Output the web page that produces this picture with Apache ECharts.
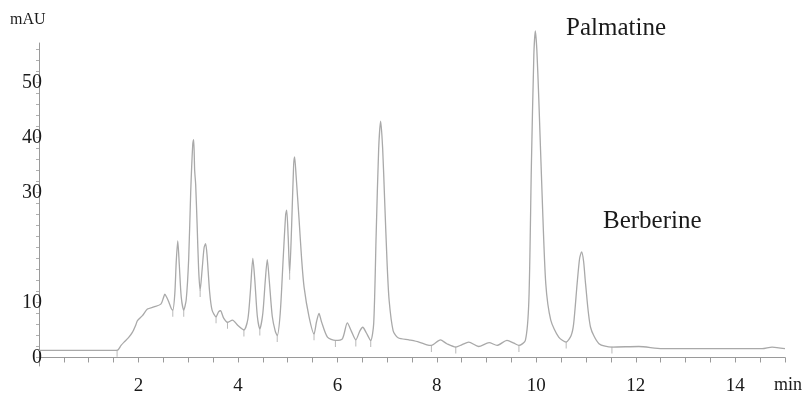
<!DOCTYPE html>
<html>
<head>
<meta charset="utf-8">
<script src="https://cdn.jsdelivr.net/npm/echarts@6/dist/echarts.min.js"></script>
<style>
  html, body { margin: 0; padding: 0; background: #fff; }
  #plot { width: 804px; height: 402px; }
</style>
</head>
<body>
<div id="plot"></div>
<script>
// retention time (min) and absorbance (mAU)
const times = [
    0, 1.57, 1.65, 1.71, 1.80, 1.88, 1.95, 1.98, 2.08, 2.18, 2.31, 2.45, 2.50, 2.53, 2.57, 2.61, 2.66, 2.69,
    2.73, 2.76, 2.79, 2.82, 2.86, 2.91, 2.96, 3.01, 3.05, 3.09, 3.11, 3.13, 3.15, 3.18, 3.21, 3.24, 3.28, 3.32,
    3.35, 3.38, 3.43, 3.48, 3.56, 3.61, 3.65, 3.71, 3.79, 3.89, 4.00, 4.12, 4.20, 4.25, 4.30, 4.34, 4.39, 4.44,
    4.50, 4.55, 4.59, 4.63, 4.69, 4.75, 4.79, 4.85, 4.91, 4.96, 4.98, 5.01, 5.04, 5.08, 5.12, 5.14, 5.17, 5.23,
    5.28, 5.33, 5.43, 5.53, 5.58, 5.63, 5.68, 5.80, 5.96, 6.10, 6.20, 6.28, 6.37, 6.45, 6.51, 6.58, 6.67, 6.73,
    6.78, 6.83, 6.87, 6.91, 6.95, 7.00, 7.04, 7.12, 7.22, 7.44, 7.64, 7.80, 7.89, 8.07, 8.20, 8.38, 8.50, 8.64,
    8.84, 9.05, 9.21, 9.41, 9.55, 9.65, 9.78, 9.85, 9.90, 9.95, 9.98, 10.01, 10.05, 10.12, 10.19, 10.29, 10.45,
    10.60, 10.70, 10.75, 10.82, 10.87, 10.91, 10.95, 10.99, 11.09, 11.26, 11.52, 12.06, 12.53, 14.54, 14.74, 15.0
]
const signal = [
    1.3, 1.3, 2.2, 2.8, 3.6, 4.6, 6.0, 6.7, 7.6, 8.8, 9.2, 9.7, 10.8, 11.5, 10.9, 10.1, 8.9, 8.6,
    11.5, 17.5, 21.2, 17, 11, 8.6, 10.5, 18, 30, 38.5, 39.6, 34, 31.5, 24, 16, 12.2, 16, 20,
    20.7, 18.5, 12, 8.6, 7.4, 8.3, 8.5, 7.2, 6.4, 6.8, 5.8, 5.0, 7, 12, 18.0, 14, 7.5, 5.2,
    8, 14, 17.8, 14, 7.5, 4.8, 4.0, 8, 18, 26, 26.8, 22, 15.3, 24, 35, 36.5, 33, 25,
    18, 12.8, 7.4, 4.3, 6.5, 8.0, 6.5, 3.7, 3.1, 3.4, 6.3, 4.8, 3.2, 4.8, 5.5, 4.5, 3.1, 6.2,
    22.6, 38, 43.0, 38, 28.6, 17, 10.4, 4.9, 3.6, 3.2, 2.8, 2.3, 2.2, 3.2, 2.5, 1.9, 2.3, 2.8,
    2.0, 2.7, 2.2, 3.1, 2.6, 2.2, 3.1, 10.4, 34.7, 55, 59.4, 56, 46.9, 28.6, 13.4, 6.8, 3.7,
    2.8, 4, 6.1, 13.4, 18, 19.2, 17.5, 13.4, 5.5, 2.5, 1.9, 2.0, 1.6, 1.6, 1.9, 1.6
]

// integrator start/stop marks at valleys
const markTimes = [1.57, 2.69, 2.91, 3.24, 3.56, 3.79, 4.12, 4.44, 4.79, 5.04, 5.53, 5.96, 6.37, 6.67, 7.89, 8.38, 9.65, 10.60, 11.52]
const markValues = [1.3, 8.6, 8.6, 12.2, 7.4, 6.4, 5.0, 5.2, 4.0, 15.3, 4.3, 3.1, 3.2, 3.1, 2.2, 1.9, 2.2, 2.8, 1.9]

const yLabels = [0, 10, 30, 40, 50]
const yTicks = [0, 2, 4, 6, 8, 10, 12, 14, 16, 18, 20, 22, 24, 26, 28, 30, 32, 34, 36, 38, 40, 42, 44, 46, 48, 50, 52, 54, 56]

const font = 'Liberation Serif'

let trace = times.map((t, i) => [t, signal[i]])
let marks = markTimes.map((t, i) => [t, markValues[i]])

let option = {
    animation: false,
    grid: {
        left: 39,
        right: 19,
        top: 43,
        bottom: 36
    },
    xAxis: {
        type: 'value',
        min: 0,
        max: 15,
        interval: 0.5,
        splitLine: { show: false },
        axisLine: { lineStyle: { color: '#9a9a9a', width: 1 } },
        axisTick: { length: 5, lineStyle: { color: '#9a9a9a' } },
        axisLabel: {
            margin: 11,
            fontFamily: font,
            fontSize: 19,
            color: '#1a1a1a',
            formatter: function (v) {
                return (v > 0 && v % 2 === 0) ? String(v) : ''
            }
        }
    },
    yAxis: {
        type: 'value',
        min: -1.55,
        max: 57.2,
        splitLine: { show: false },
        axisLine: { show: true, lineStyle: { color: '#9a9a9a', width: 1 } },
        axisTick: {
            show: true,
            length: 3,
            customValues: yTicks,
            lineStyle: { color: '#b0b0b0' }
        },
        axisLabel: {
            margin: -3,
            customValues: yLabels,
            fontFamily: font,
            fontSize: 20,
            color: '#1a1a1a'
        }
    },
    graphic: [
        { type: 'text', left: 10, top: 12, style: { text: 'mAU', font: '16px "Liberation Serif"', fill: '#1a1a1a' } },
        { type: 'text', left: 566, top: 16, style: { text: 'Palmatine', font: '25px "Liberation Serif"', fill: '#1a1a1a' } },
        { type: 'text', left: 603, top: 209, style: { text: 'Berberine', font: '25px "Liberation Serif"', fill: '#1a1a1a' } },
        { type: 'text', left: 774, top: 376, style: { text: 'min', font: '18px "Liberation Serif"', fill: '#1a1a1a' } }
    ],
    series: [{
        type: 'line',
        data: trace,
        showSymbol: false,
        smooth: 0.25,
        clip: false,
        lineStyle: { color: '#a9a9a9', width: 1.3 }
    }, {
        type: 'scatter',
        data: marks,
        symbol: 'rect',
        symbolSize: [1, 7],
        symbolOffset: [0, 3],
        itemStyle: { color: '#a8a8a8' }
    }]
}

let chart = echarts.init(document.getElementById('plot'))
chart.setOption(option)
</script>
</body>
</html>
